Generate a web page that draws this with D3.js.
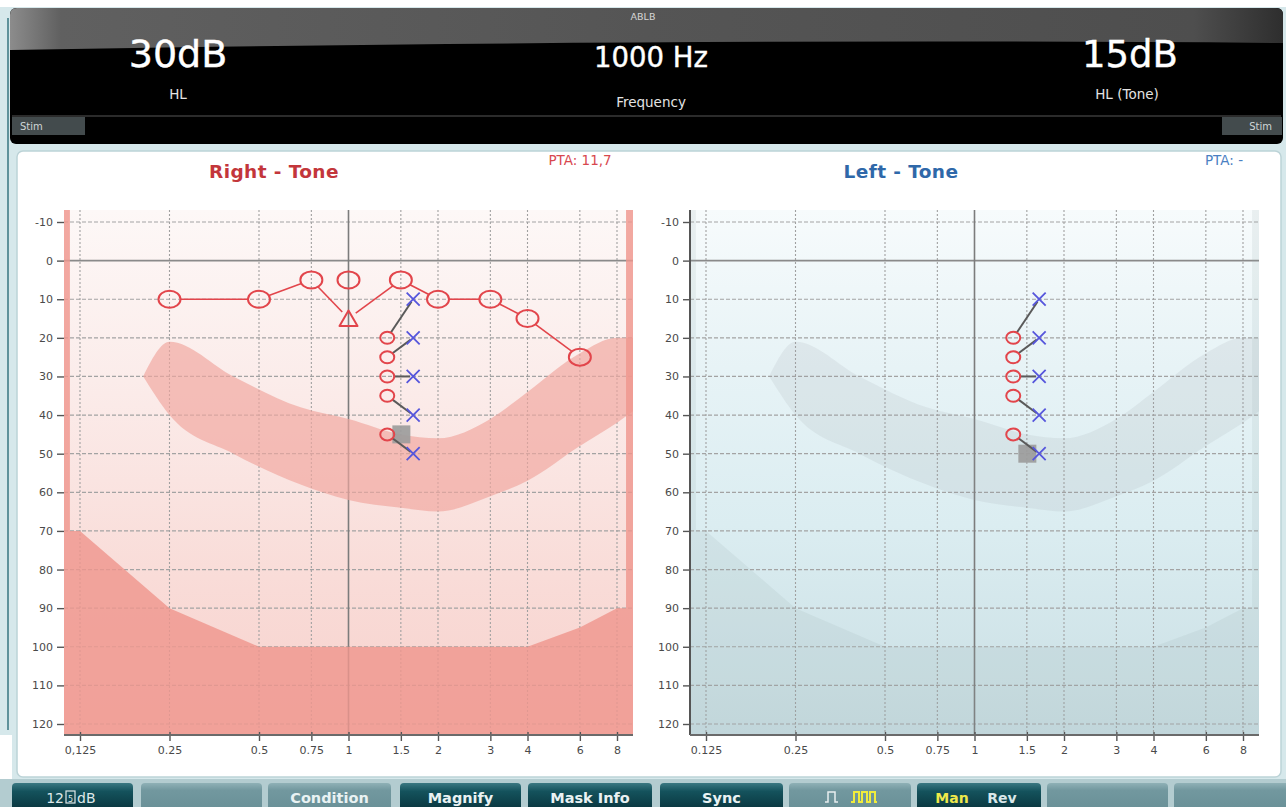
<!DOCTYPE html>
<html><head><meta charset="utf-8">
<script src="https://cdn.jsdelivr.net/npm/d3@7"></script>
<style>
body{margin:0;background:#d6e8eb;overflow:hidden}
svg{display:block}
text{font-family:"DejaVu Sans",Verdana,sans-serif}
</style>
</head><body>
<svg id="c" width="1286" height="807"></svg>
<script>
// ---------------- DATA ----------------
const freqTicks = [0.125, 0.25, 0.5, 0.75, 1, 1.5, 2, 3, 4, 6, 8];
const freqLabelsRightEar = ["0,125", "0.25", "0.5", "0.75", "1", "1.5", "2", "3", "4", "6", "8"];
const freqLabelsLeftEar  = ["0.125", "0.25", "0.5", "0.75", "1", "1.5", "2", "3", "4", "6", "8"];
const dbTicks = [-10, 0, 10, 20, 30, 40, 50, 60, 70, 80, 90, 100, 110, 120];

// right ear air conduction thresholds (circles)
const rightAirFreq = [0.25, 0.5, 0.75, 1, 1.5, 2, 3, 4, 6];
const rightAirDb   = [10, 10, 5, 5, 5, 10, 10, 15, 25];
// triangle symbol
const rightTriFreq = [1];
const rightTriDb   = [15];
// connected line through the audiogram
const rightLineFreq = [0.25, 0.5, 0.75, 1, 1.5, 2, 3, 4, 6];
const rightLineDb   = [10, 10, 5, 15, 5, 10, 10, 15, 25];
const rightLineSym  = ["o", "o", "o", "t", "o", "o", "o", "o", "o"];

// ABLB balance pairs (right = circle, left = cross)
const ablbCircleFreq = 1.35;
const ablbCrossFreq  = 1.65;
const ablbCircleDb = [20, 25, 30, 35, 45];
const ablbCrossDb  = [10, 20, 30, 40, 50];
// current-level square marker
const cursorFreq = 1.5;
const cursorDbRightChart = 45;
const cursorDbLeftChart  = 50;

// speech-area band
const bandFreq   = [0.204, 0.25, 0.41, 0.69, 1.0, 1.5, 2.0, 3.0, 4.0, 6.0, 8.0, 9.06];
const bandTop    = [30, 21, 30, 38, 41, 45, 46, 41, 34, 24, 20, 20];
const bandBottom = [30, 40, 50, 58, 62, 64, 65, 61, 57, 48, 42, 39];

// audiometer output limit
const limitFreq = [0.1156, 0.125, 0.25, 0.5, 1, 2, 4, 6, 8, 8.58];
const limitDb   = [70, 70, 90, 100, 100, 100, 100, 95, 90, 90];

// header values
const headerLeftValue = "30dB", headerLeftLabel = "HL";
const headerMidValue = "1000 Hz", headerMidLabel = "Frequency";
const headerRightValue = "15dB", headerRightLabel = "HL (Tone)";
const headerMode = "ABLB";
const ptaRight = "PTA: 11,7", ptaLeft = "PTA: -";
const buttons = ["12", "", "Condition", "Magnify", "Mask Info", "Sync", "", "", "", ""];

// ---------------- LAYOUT ----------------
const svg = d3.select("#c");
const defs = svg.append("defs");
const plotTop = 210, plotBottom = 735, plotLeft = 64, plotRight = 633;
const x = d3.scaleLog().base(2).domain([0.125, 8]).range([80, 617]);
const y = d3.scaleLinear().domain([-10, 120]).range([222, 724]);
const fL = x.invert(plotLeft), fR = x.invert(plotRight);
const dbTop = y.invert(plotTop), dbBot = y.invert(plotBottom);
const chartOffset = 626;

function lg(id, stops, x1, y1, x2, y2) {
  const g = defs.append("linearGradient").attr("id", id)
    .attr("x1", x1).attr("y1", y1).attr("x2", x2).attr("y2", y2);
  stops.forEach(s => g.append("stop").attr("offset", s[0]).attr("stop-color", s[1]));
}
lg("bgRed", [[0, "#fdf8f7"], [0.35, "#fbebe9"], [0.7, "#f9dcd8"], [1, "#f7d1cc"]], 0, 0, 0, 1);
lg("bgBlue", [[0, "#f7fbfc"], [0.3, "#e7f3f6"], [0.6, "#dbedf1"], [1, "#c9dee3"]], 0, 0, 0, 1);
lg("hdrGloss", [[0, "#8c8c8c"], [0.04, "#606060"], [0.5, "#555555"], [0.93, "#4e4e4e"], [1, "#2e2e2e"]], 0, 0, 1, 0);
lg("btnDark", [[0, "#3b7882"], [0.35, "#14525c"], [1, "#0b3a43"]], 0, 0, 0, 1);
lg("btnLight", [[0, "#8fb1b6"], [0.3, "#72989f"], [1, "#6a9198"]], 0, 0, 0, 1);

// page pieces
svg.append("rect").attr("x", 0).attr("y", 0).attr("width", 1286).attr("height", 807).attr("fill", "#d6e8eb");
svg.append("rect").attr("x", 0).attr("y", 0).attr("width", 1286).attr("height", 7).attr("fill", "#ffffff");
svg.append("line").attr("x1", 8).attr("x2", 8).attr("y1", 18).attr("y2", 730).attr("stroke", "#5f929b").attr("stroke-width", 2);
svg.append("rect").attr("x", 0).attr("y", 735).attr("width", 12).attr("height", 45).attr("fill", "#ffffff");

// ---------------- HEADER ----------------
const hdr = svg.append("g");
hdr.append("rect").attr("x", 10).attr("y", 8).attr("width", 1273).attr("height", 136).attr("rx", 6).attr("fill", "#000");
hdr.append("path").attr("d", "M10,15 Q10,8 17,8 L1276,8 Q1283,8 1283,15 L1283,43 Q700,38 10,50 Z").attr("fill", "url(#hdrGloss)");
hdr.append("line").attr("x1", 12).attr("x2", 1281).attr("y1", 116).attr("y2", 116).attr("stroke", "#3a3a3a").attr("stroke-width", 1.5);
hdr.append("rect").attr("x", 12).attr("y", 117).attr("width", 73).attr("height", 18).attr("fill", "#434b4d");
hdr.append("rect").attr("x", 1222).attr("y", 117).attr("width", 60).attr("height", 18).attr("fill", "#434b4d");
hdr.append("text").attr("x", 20).attr("y", 130).attr("font-size", 10).attr("fill", "#cfd6d6").text("Stim");
hdr.append("text").attr("x", 1272).attr("y", 130).attr("text-anchor", "end").attr("font-size", 10).attr("fill", "#cfd6d6").text("Stim");
hdr.append("text").attr("x", 643).attr("y", 20).attr("text-anchor", "middle").attr("font-size", 9.5).attr("fill", "#d6d6d6").text(headerMode);
const big = (t, cx, fs) => hdr.append("text").attr("x", cx).attr("y", 67).attr("text-anchor", "middle")
  .attr("font-family", "'Liberation Sans',Arial,sans-serif").attr("font-size", fs).attr("fill", "#fff")
  .attr("stroke", "#fff").attr("stroke-width", 0.4).text(t);
big(headerLeftValue, 178, 38);
big(headerMidValue, 651, 27.5);
big(headerRightValue, 1130, 37);
const small = (t, cx, yy) => hdr.append("text").attr("x", cx).attr("y", yy).attr("text-anchor", "middle")
  .attr("font-size", 13.5).attr("fill", "#e4e4e4").text(t);
small(headerLeftLabel, 178, 99);
small(headerMidLabel, 651, 107);
small(headerRightLabel, 1127, 99);

// ---------------- PANEL ----------------
svg.append("rect").attr("x", 17).attr("y", 151).attr("width", 1264).attr("height", 626).attr("rx", 6)
  .attr("fill", "#ffffff").attr("stroke", "#bcd3d7").attr("stroke-width", 1.5);

defs.append("clipPath").attr("id", "plotClip").append("rect")
  .attr("x", plotLeft).attr("y", plotTop).attr("width", plotRight - plotLeft).attr("height", plotBottom - plotTop);

function drawChart(dx, o) {
  const g = svg.append("g").attr("transform", `translate(${dx},0)`);
  const p = g.append("g").attr("clip-path", "url(#plotClip)");
  p.append("rect").attr("x", plotLeft).attr("y", plotTop).attr("width", plotRight - plotLeft)
    .attr("height", plotBottom - plotTop).attr("fill", o.bg);

  // grid
  const grid = p.append("g");
  grid.selectAll(".hg").data(dbTicks).join("line")
    .attr("x1", plotLeft).attr("x2", plotRight).attr("y1", d => y(d)).attr("y2", d => y(d))
    .attr("stroke", d => d === 0 ? "#8a8a8a" : "#a3a3a3")
    .attr("stroke-width", d => d === 0 ? 1.6 : 1.2)
    .attr("stroke-dasharray", d => d === 0 ? null : "4,2");
  grid.selectAll(".vg").data(freqTicks).join("line")
    .attr("x1", d => x(d)).attr("x2", d => x(d)).attr("y1", plotTop).attr("y2", plotBottom)
    .attr("stroke", d => d === 1 ? "#7c7c7c" : "#a0a0a0")
    .attr("stroke-width", d => d === 1 ? 1.6 : 1.1)
    .attr("stroke-dasharray", d => d === 1 ? null : "2,2");

  // band
  const bandData = bandFreq.map((f, i) => ({ f, t: bandTop[i], b: bandBottom[i] }));
  p.append("path").datum(bandData)
    .attr("d", d3.area().x(d => x(d.f)).y0(d => y(d.b)).y1(d => y(d.t)).curve(d3.curveMonotoneX))
    .attr("fill", o.band).attr("opacity", o.bandOp);

  // limit region
  const lim = [[fL, dbTop], [limitFreq[0], dbTop]]
    .concat(limitFreq.map((f, i) => [f, limitDb[i]]))
    .concat([[limitFreq[limitFreq.length - 1], dbTop], [fR, dbTop], [fR, dbBot], [fL, dbBot]]);
  p.append("path").datum(lim)
    .attr("d", d3.line().x(d => x(d[0])).y(d => y(d[1])))
    .attr("fill", o.limit).attr("opacity", o.limitOp);

  // axes
  const ya = g.append("g").attr("transform", `translate(${plotLeft},0)`)
    .call(d3.axisLeft(y).tickValues(dbTicks).tickFormat(d => String(d)).tickSize(7).tickPadding(4));
  ya.select(".domain").remove();
  ya.selectAll("line").attr("stroke", "#555").attr("stroke-width", 1.4);
  ya.selectAll("text").attr("font-size", 11).attr("fill", "#4a4a4a").attr("font-family", "'DejaVu Sans',sans-serif");
  if (o.yLine) {
    g.append("line").attr("x1", plotLeft).attr("x2", plotLeft).attr("y1", plotTop).attr("y2", plotBottom)
      .attr("stroke", "#555").attr("stroke-width", 2);
  }
  const xa = g.append("g").attr("transform", `translate(0,${plotBottom})`)
    .call(d3.axisBottom(x).tickValues(freqTicks).tickFormat((d, i) => o.labels[i]).tickSize(6).tickPadding(5));
  xa.select(".domain").remove();
  xa.selectAll("line").attr("stroke", "#555").attr("stroke-width", 1.4).attr("y1", -3);
  xa.selectAll("text").attr("font-size", 11).attr("fill", "#4a4a4a").attr("font-family", "'DejaVu Sans',sans-serif");
  g.append("line").attr("x1", plotLeft).attr("x2", plotRight).attr("y1", plotBottom).attr("y2", plotBottom)
    .attr("stroke", "#6a6a6a").attr("stroke-width", 2);

  // titles
  g.append("text").attr("x", o.titleX).attr("y", 178).attr("text-anchor", "middle")
    .attr("font-size", 18.5).attr("font-weight", "bold").attr("letter-spacing", 0.4)
    .attr("fill", o.titleColor).text(o.title);
  g.append("text").attr("x", o.ptaX).attr("y", 165).attr("text-anchor", "middle")
    .attr("font-size", 13.5).attr("fill", o.ptaColor).text(o.pta);
  return g;
}

const red = "#e2454b", blue = "#5656dc", connector = "#5a5a5a";

function ablb(g, cursorDb) {
  g.append("rect").attr("x", x(cursorFreq) - 8.5).attr("y", y(cursorDb) - 9)
    .attr("width", 18).attr("height", 18).attr("fill", "#9c9c9c").attr("opacity", 0.92);
  const pairs = ablbCircleDb.map((c, i) => ({ c, k: ablbCrossDb[i] }));
  pairs.forEach(pr => {
    const x1 = x(ablbCircleFreq), y1 = y(pr.c), x2 = x(ablbCrossFreq), y2 = y(pr.k);
    const dx = x2 - x1, dy = y2 - y1, L = Math.hypot(dx, dy);
    g.append("line").attr("x1", x1 + dx / L * 6.5).attr("y1", y1 + dy / L * 6.5)
      .attr("x2", x2 - dx / L * 3).attr("y2", y2 - dy / L * 3)
      .attr("stroke", connector).attr("stroke-width", 2);
  });
  g.selectAll(".ac").data(ablbCircleDb).join("ellipse")
    .attr("cx", x(ablbCircleFreq)).attr("cy", d => y(d)).attr("rx", 7).attr("ry", 6)
    .attr("fill", "none").attr("stroke", red).attr("stroke-width", 2);
  g.selectAll(".ax").data(ablbCrossDb).join("path")
    .attr("d", d => {
      const cx = x(ablbCrossFreq), cy = y(d), s = 6.5;
      return `M${cx - s},${cy - s}L${cx + s},${cy + s}M${cx - s},${cy + s}L${cx + s},${cy - s}`;
    })
    .attr("stroke", blue).attr("stroke-width", 1.8).attr("fill", "none");
}

// ---- Right ear chart ----
const gR = drawChart(0, {
  bg: "url(#bgRed)", band: "#f0a79f", bandOp: 0.68, limit: "#ef968d", limitOp: 0.82,
  labels: freqLabelsRightEar, yLine: false,
  title: "Right - Tone", titleX: 274, titleColor: "#c3363b", pta: ptaRight, ptaX: 580, ptaColor: "#d8474e"
});
const rx = 11, ry = 8.5, triR = 9;
const pts = rightLineFreq.map((f, i) => ({ px: x(f), py: y(rightLineDb[i]), s: rightLineSym[i] }));
function effR(pt, ux, uy) {
  if (pt.s === "t") return triR;
  return (rx * ry) / Math.sqrt((ry * ux) ** 2 + (rx * uy) ** 2);
}
for (let i = 0; i < pts.length - 1; i++) {
  const a = pts[i], b = pts[i + 1];
  const dx = b.px - a.px, dy = b.py - a.py, L = Math.hypot(dx, dy), ux = dx / L, uy = dy / L;
  const ra = effR(a, ux, uy), rb = effR(b, ux, uy);
  gR.append("line").attr("x1", a.px + ux * ra).attr("y1", a.py + uy * ra)
    .attr("x2", b.px - ux * rb).attr("y2", b.py - uy * rb)
    .attr("stroke", red).attr("stroke-width", 1.6);
}
gR.selectAll(".air").data(rightAirFreq).join("ellipse")
  .attr("cx", d => x(d)).attr("cy", (d, i) => y(rightAirDb[i])).attr("rx", rx).attr("ry", ry)
  .attr("fill", "none").attr("stroke", red).attr("stroke-width", 2);
gR.selectAll(".tri").data(rightTriFreq).join("path")
  .attr("d", (d, i) => {
    const cx = x(d), cy = y(rightTriDb[i]);
    return `M${cx},${cy - 8}L${cx + 9},${cy + 7.5}L${cx - 9},${cy + 7.5}Z`;
  })
  .attr("fill", "none").attr("stroke", red).attr("stroke-width", 2).attr("stroke-linejoin", "round");
ablb(gR, cursorDbRightChart);

// ---- Left ear chart ----
const gL = drawChart(chartOffset, {
  bg: "url(#bgBlue)", band: "#97a3a6", bandOp: 0.15, limit: "#93a7ab", limitOp: 0.14,
  labels: freqLabelsLeftEar, yLine: true,
  title: "Left - Tone", titleX: 275, titleColor: "#2f68a9", pta: ptaLeft, ptaX: 598, ptaColor: "#4a80c2"
});
ablb(gL, cursorDbLeftChart);

// ---------------- BUTTON BAR ----------------
const bar = svg.append("g");
bar.append("rect").attr("x", 0).attr("y", 779).attr("width", 1286).attr("height", 28).attr("fill", "#b3ccd0");
const btnX = [[12, 133], [141, 262], [268, 391], [400, 521], [528, 652], [660, 783], [789, 911], [917, 1041], [1047, 1168], [1174, 1290]];
const btnDark = [true, false, false, true, true, true, false, true, false, false];
btnX.forEach((b, i) => {
  bar.append("path")
    .attr("d", `M${b[0]},807 L${b[0]},787 Q${b[0]},783 ${b[0] + 4},783 L${b[1] - 4},783 Q${b[1]},783 ${b[1]},787 L${b[1]},807 Z`)
    .attr("fill", btnDark[i] ? "url(#btnDark)" : "url(#btnLight)");
  if (buttons[i] && i > 0) {
    bar.append("text").attr("x", (b[0] + b[1]) / 2).attr("y", 803).attr("text-anchor", "middle")
      .attr("font-size", 14.5).attr("font-weight", "bold").attr("fill", "#e9f2f3").text(buttons[i]);
  }
});
bar.append("text").attr("x", 64).attr("y", 803).attr("text-anchor", "end").attr("font-size", 14).attr("fill", "#dfe9ea").text(buttons[0]);
bar.append("rect").attr("x", 66).attr("y", 791).attr("width", 9).attr("height", 12).attr("fill", "none").attr("stroke", "#dfe9ea").attr("stroke-width", 1.2);
bar.append("text").attr("x", 70.5).attr("y", 801.5).attr("text-anchor", "middle").attr("font-size", 8).attr("fill", "#dfe9ea").text("5");
bar.append("text").attr("x", 77).attr("y", 803).attr("font-size", 14).attr("fill", "#dfe9ea").text("dB");
bar.append("path").attr("d", "M825,802 h3 v-10 h7 v10 h3").attr("fill", "none").attr("stroke", "#e8eef0").attr("stroke-width", 1.5);
bar.append("path").attr("d", "M851,802 h3 v-10 h5 v10 h3 v-10 h5 v10 h3 v-10 h5 v10 h2").attr("fill", "none").attr("stroke", "#f0ec3c").attr("stroke-width", 2);
bar.append("text").attr("x", 952).attr("y", 803).attr("text-anchor", "middle").attr("font-size", 14).attr("font-weight", "bold").attr("fill", "#efe94a").text("Man");
bar.append("text").attr("x", 1002).attr("y", 803).attr("text-anchor", "middle").attr("font-size", 14).attr("font-weight", "bold").attr("fill", "#d9e7e9").text("Rev");
</script>
</body></html>
